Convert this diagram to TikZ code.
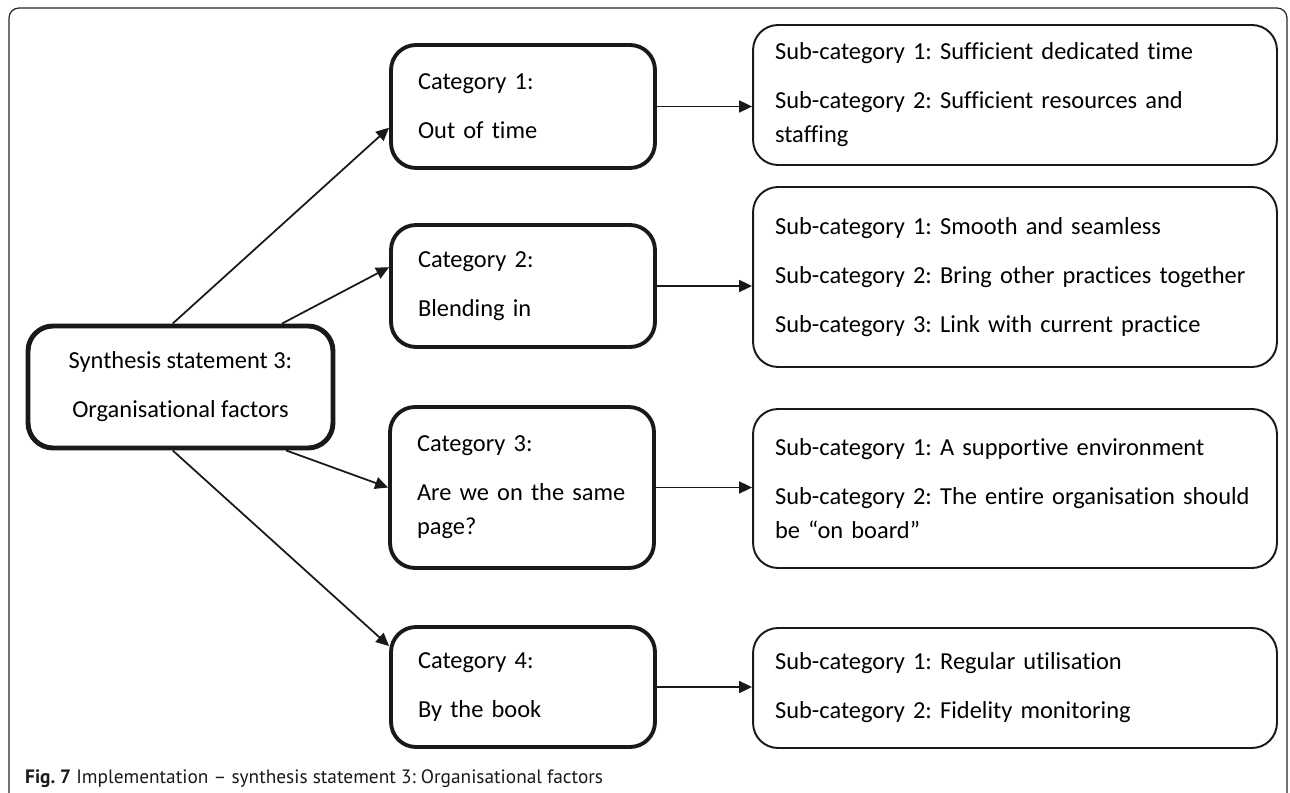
\documentclass[tikz,border=0pt]{standalone}
\usepackage{fontspec}
\setmainfont{Carlito}[Ligatures=NoCommon]
\newfontfamily\capfont{PT Sans}
\usetikzlibrary{arrows.meta}
\newcommand{\pgap}{\\[8.5pt]}
\frenchspacing
\hyphenpenalty=10000
\exhyphenpenalty=10000

\begin{document}
\begin{tikzpicture}[x=0.02cm,y=-0.02cm,
    box/.style={draw=black!90,rounded corners=0.5cm,inner sep=0pt,
      font=\fontsize{13.9pt}{19.3pt}\selectfont},
    mainbox/.style={box,line width=2.8pt,align=center,
      minimum width=6.1cm,minimum height=2.44cm},
    catbox/.style={box,line width=2.2pt,align=left,text width=4.2cm,
      minimum width=5.28cm},
    subbox/.style={box,line width=1.1pt,align=left,text width=9.6cm,
      minimum width=10.48cm},
    link/.style={draw=black!90,line width=1pt,-{Triangle[length=0.26cm,width=0.24cm]}}]
   \useasboundingbox (0,0) rectangle (1290,793);
   % outer frame
   \draw[black!85,line width=0.7pt,rounded corners=0.2cm] (9,8) rectangle (1287,805);

   \node[mainbox] (main) at (180.5,387) {Synthesis statement 3:\pgap Organisational factors};

   \node[catbox,minimum height=2.46cm] (cat1) at (523,106.5) {Category 1:\pgap Out of time};
   \node[catbox,minimum height=2.44cm] (cat2) at (523,286) {Category 2:\pgap Blending in};
   \node[catbox,minimum height=3.22cm] (cat3) at (522,487.5) {Category 3:\pgap Are we on the same\\page?};
   \node[catbox,minimum height=2.4cm] (cat4) at (523,687) {Category 4:\pgap By the book};

   \node[subbox,minimum height=2.8cm] (sub1) at (1015,95)
     {Sub-category 1: Sufficient dedicated time\pgap Sub-category 2: Sufficient resources and\\staffing};
   \node[subbox,minimum height=3.6cm] (sub2) at (1015,277)
     {Sub-category 1: Smooth and seamless\pgap Sub-category 2: Bring other practices together\pgap Sub-category 3: Link with current practice};
   \node[subbox,minimum height=3.18cm] (sub3) at (1015,488.5)
     {Sub-category 1: A supportive environment\pgap Sub-category 2: The entire organisation should\\be “on board”};
   \node[subbox,minimum height=2.4cm] (sub4) at (1015,688)
     {Sub-category 1: Regular utilisation\pgap Sub-category 2: Fidelity monitoring};

   % statement to categories
   \draw[link] (main.97) -- (cat1.189.7);
   \draw[link] (main.32.3) -- (cat2.172.2);
   \draw[link] (main.-31) -- (cat3.west);
   \draw[link] (main.-97) -- (cat4.163.1);

   % categories to sub-categories
   \foreach \i in {1,...,4}
     \draw[link] (cat\i.east) -- (cat\i.east -| sub\i.west);

   \node[anchor=base west,font=\capfont\fontsize{11pt}{13pt}\selectfont,text=black!90] (caption) at (19,783)
     {\textbf{Fig. 7} Implementation – synthesis statement 3: Organisational factors};
\end{tikzpicture}
\end{document}
